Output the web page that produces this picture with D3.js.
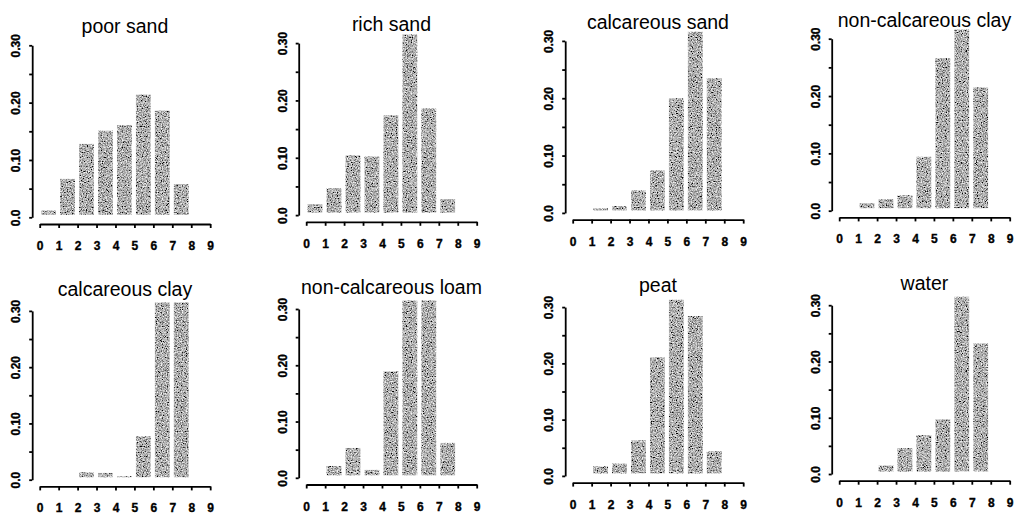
<!DOCTYPE html>
<html>
<head>
<meta charset="utf-8">
<script src="https://cdn.jsdelivr.net/npm/d3@7"></script>
<style>
  html, body { margin: 0; padding: 0; background: #fff; }
  svg { display: block; }
  .title { font-family: "Liberation Sans", Arial, sans-serif; font-size: 19.5px; fill: #000; }
  .axis path, .axis line { stroke: #000; stroke-width: 1.8px; }
</style>
</head>
<body>
<svg id="chart" width="1018" height="517"></svg>
<script>
// Soil types, one panel each, in reading order
const soilTypes = [
  "poor sand", "rich sand", "calcareous sand", "non-calcareous clay",
  "calcareous clay", "non-calcareous loam", "peat", "water"
];

// Proportion of species in each indicator class 0..8
const poorSand          = [0.012, 0.067, 0.128, 0.151, 0.161, 0.214, 0.186, 0.058, 0];
const richSand          = [0.019, 0.047, 0.104, 0.102, 0.174, 0.315, 0.186, 0.028, 0];
const calcareousSand    = [0, 0.008, 0.012, 0.039, 0.074, 0.200, 0.316, 0.235, 0];
const nonCalcareousClay = [0, 0.013, 0.020, 0.027, 0.094, 0.266, 0.316, 0.215, 0];
const calcareousClay    = [0, 0, 0.013, 0.012, 0.005, 0.077, 0.315, 0.315, 0];
const nonCalcareousLoam = [0, 0.021, 0.053, 0.014, 0.189, 0.315, 0.315, 0.062, 0];
const peat              = [0, 0.017, 0.022, 0.063, 0.211, 0.313, 0.284, 0.044, 0];
const water             = [0, 0, 0.015, 0.046, 0.069, 0.097, 0.315, 0.232, 0];

const seriesBySoil = [poorSand, richSand, calcareousSand, nonCalcareousClay,
                      calcareousClay, nonCalcareousLoam, peat, water];

// Axis ticks and labels
const xTicks = [0, 1, 2, 3, 4, 5, 6, 7, 8, 9];
const yTicks = [0, 0.05, 0.1, 0.15, 0.2, 0.25, 0.3];
const yTickLabels = ["0.0", "", "0.10", "", "0.20", "", "0.30"];

const svg = d3.select("#chart");

// Stippled grey fill for the bars
const defs = svg.append("defs");
const grain = defs.append("filter").attr("id", "grain")
  .attr("filterUnits", "userSpaceOnUse")
  .attr("x", 0).attr("y", 0).attr("width", 1018).attr("height", 517);
grain.append("feTurbulence").attr("type", "fractalNoise")
  .attr("baseFrequency", 0.8).attr("numOctaves", 3).attr("seed", 7).attr("result", "noise");
grain.append("feColorMatrix").attr("in", "noise").attr("type", "matrix")
  .attr("values", "1 0 0 0 0  1 0 0 0 0  1 0 0 0 0  0 0 0 0 1").attr("result", "grey");
const ct = grain.append("feComponentTransfer").attr("in", "grey").attr("result", "contrast");
["feFuncR", "feFuncG", "feFuncB"].forEach(f =>
  ct.append(f).attr("type", "linear").attr("slope", 1.7).attr("intercept", -0.42));
grain.append("feComposite").attr("in", "contrast").attr("in2", "SourceGraphic").attr("operator", "in");

// Panel layout: 2 rows x 4 columns
const colStep = 266.5;
const rows = [
  { zero: 217.3, span: 172.0, drift: -2.2 },
  { zero: 479.7, span: 168.8, drift: -1.9 }
];
const xSpan = 170.5;
const barGap = 2.5;

function styleTickText(sel) {
  sel.style("font-family", "'Liberation Sans', Arial, sans-serif")
    .style("font-size", "12px")
    .style("font-weight", "bold")
    .style("fill", "#000")
    .style("stroke", "#000")
    .style("stroke-width", "0.35px");
}

soilTypes.forEach((name, i) => {
  const r = Math.floor(i / 4), c = i % 4;
  const row = rows[r];
  const axisX = 32.2 + colStep * c;
  const zero = row.zero + row.drift * c;

  const x = d3.scaleLinear().domain([0, 9]).range([axisX + 7.5, axisX + 7.5 + xSpan]);
  const y = d3.scaleLinear().domain([0, 0.3]).range([zero, zero - row.span]);

  const g = svg.append("g");

  // Bars
  const values = seriesBySoil[i];
  const base = y(0) - barGap;
  g.append("g").selectAll("rect")
    .data(values.map((v, k) => ({ k, v })).filter(d => d.v > 0))
    .join("rect")
    .attr("x", d => x(d.k + 0.08))
    .attr("width", d => x(d.k + 0.86) - x(d.k + 0.08))
    .attr("y", d => Math.min(y(d.v), base - 1))
    .attr("height", d => base - Math.min(y(d.v), base - 1))
    .attr("fill", "#777")
    .attr("filter", "url(#grain)");

  // Y axis with rotated labels
  const gy = g.append("g").attr("class", "axis")
    .attr("transform", `translate(${axisX},0)`)
    .call(d3.axisLeft(y).tickValues(yTicks).tickSize(3).tickSizeOuter(0)
      .tickFormat((d, k) => yTickLabels[k]));
  gy.selectAll("text")
    .attr("x", 0).attr("y", 0).attr("dy", null)
    .attr("text-anchor", "middle")
    .attr("transform", "translate(-12,0) rotate(-90)")
    .call(styleTickText);

  // X axis, set below the plot
  const gx = g.append("g").attr("class", "axis")
    .attr("transform", `translate(0,${zero + 6.7})`)
    .call(d3.axisBottom(x).tickValues(xTicks).tickSize(4).tickSizeOuter(0)
      .tickFormat(d3.format("d")));
  gx.selectAll("text").attr("y", 26).attr("dy", null).call(styleTickText);

  // Title
  g.append("text").attr("class", "title")
    .attr("x", x(4.5)).attr("y", zero - 184)
    .attr("text-anchor", "middle")
    .text(name);
});
</script>
</body>
</html>
